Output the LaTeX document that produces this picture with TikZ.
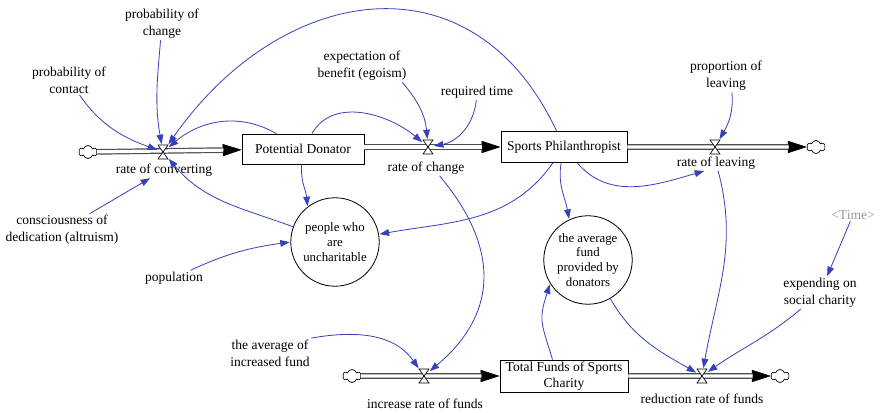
\documentclass[tikz,border=0pt]{standalone}
\usepackage{fontspec}
\setmainfont{Liberation Serif}
\usetikzlibrary{arrows.meta, positioning, shapes.symbols}
\definecolor{linkblue}{RGB}{55, 65, 185}
\definecolor{timegray}{RGB}{150, 150, 150}
\tikzset{
  lbl/.style={align=center, inner sep=1pt, font=\fontsize{10}{12.5}\selectfont},
  stock/.style={draw, line width=0.6pt, inner sep=1pt, align=center, font=\fontsize{10}{11.5}\selectfont},
  aux/.style={draw, circle, line width=0.6pt, minimum size=2.3cm, inner sep=0pt, align=center, font=\fontsize{9.5}{11}\selectfont},
  valvept/.style={inner sep=0pt, minimum width=0.26cm, minimum height=0.36cm},
  valve/.pic={\draw[fill=white, line width=0.5pt] (-5,7) -- (5,7) -- (-5,-7) -- (5,-7) -- cycle;},
  sink/.style={cloud, draw, cloud puffs=6, aspect=1.3, minimum width=0.47cm, minimum height=0.34cm, inner sep=0pt, line width=0.5pt},
  pipe/.style={draw=black!70, double=white, double distance=2.4pt, line width=0.9pt, shorten >=13.5pt},
  flowtip/.style={-{Triangle[length=14pt,width=9pt]}, line width=0.4pt},
  link/.style={-{Triangle[length=7pt,width=5pt]}, draw=linkblue, line width=0.6pt, shorten >=0.5pt}
}
\begin{document}
\begin{tikzpicture}[x=0.026cm, y=0.026cm]
  \useasboundingbox (0,0) rectangle (882,413);
  % stocks and auxiliaries
  \node[stock, minimum width=3.17cm, minimum height=0.78cm] (donator) at (303,264) {Potential Donator};
  \node[stock, minimum width=3.28cm, minimum height=0.8cm] (philan) at (564,266) {Sports Philanthropist};
  \node[stock, minimum width=3.33cm, minimum height=0.83cm] (funds) at (564,37) {Total Funds of Sports\\Charity};
  \node[aux] (unchar) at (335,171) {people who\\are\\uncharitable};
  \node[aux] (avgfund) at (588,153) {the average\\fund\\provided by\\donators};
  % clouds and valves
  \node[sink] (srcA) at (88,261) {};
  \node[sink] (sinkA) at (816,266) {};
  \node[sink] (srcB) at (352,37) {};
  \node[sink] (sinkB) at (780,37) {};
  \node[valvept] (conv) at (163,261) {};
  \node[valvept] (change) at (428,266) {};
  \node[valvept] (leave) at (715,266) {};
  \node[valvept] (incr) at (424,37) {};
  \node[valvept] (reduc) at (702,37) {};
  % flows
  \draw[flowtip] (donator.east |- change) -- (philan);
  \draw[pipe] (donator.east |- change) -- (philan);
  \foreach \a/\b in {srcA/donator, philan/sinkA, srcB/funds, funds/sinkB} {
    \draw[flowtip] (\a) -- (\b);
    \draw[pipe] (\a) -- (\b);
  }
  \foreach \v in {conv, change, leave, incr, reduc}
    \pic at (\v) {valve};
  % labels
  \node[lbl] (convlbl) at (164,243) {rate of converting};
  \node[lbl] (changelbl) at (426,245) {rate of change};
  \node[lbl] (leavelbl) at (716,250) {rate of leaving};
  \node[lbl] (incrlbl) at (425,9) {increase rate of funds};
  \node[lbl] (reduclbl) at (702,14) {reduction rate of funds};
  \node[lbl] (pchange) at (162,389) {probability of\\change};
  \node[lbl] (pcontact) at (69,333) {probability of\\contact};
  \node[lbl] (consc) at (62,183) {consciousness of\\dedication (altruism)};
  \node[lbl] (popul) at (174,135) {population};
  \node[lbl] (expect) at (362,347) {expectation of\\benefit (egoism)};
  \node[lbl] (reqtime) at (477,321) {required time};
  \node[lbl] (pleave) at (726,337) {proportion of\\leaving};
  \node[lbl, text=timegray] (timevar) at (853,198) {\textless Time\textgreater};
  \node[lbl] (expend) at (820,120) {expending on\\social charity};
  \node[lbl] (avginc) at (270,60) {the average of\\increased fund};
  % links
  \draw[link] (pcontact) to[out=-55, in=160] (conv);
  \draw[link] (pchange) to[out=-95, in=100] (conv);
  \draw[link] (philan) to[out=115, in=55, looseness=1.3] (conv);
  \draw[link] (donator) to[out=150, in=40] (conv);
  \draw[link] (consc) -- (convlbl);
  \draw[link] (unchar) to[out=160, in=-50] (conv);
  \draw[link] (donator) to[out=-95, in=95] (unchar.128);
  \draw[link] (popul) to[out=25, in=188] (unchar.180);
  \draw[link] (philan) to[out=-125, in=10] (unchar);
  \draw[link] (donator) to[out=60, in=140] (change);
  \draw[link] (expect.-22) to[out=-50, in=95] (change);
  \draw[link] (reqtime) to[out=-95, in=10] (change);
  \draw[link] (changelbl.-30) to[out=-50, in=40, looseness=1.2] (incr);
  \draw[link] (avginc.north east) to[out=10, in=125] (incr);
  \draw[link] (philan.-100) to[out=-100, in=100] (avgfund.115);
  \draw[link] (philan.-50) to[out=-50, in=196] (leavelbl.215);
  \draw[link] (pleave.-70) to[out=-85, in=60] (leave);
  \draw[link] (leavelbl) to[out=-75, in=80] (reduc);
  \draw[link] (avgfund) to[out=-60, in=150] (reduc);
  \draw[link] (expend) to[out=-140, in=35] (reduc);
  \draw[link] (timevar) -- (expend);
  \draw[link] (funds.125) to[out=107, in=-108, looseness=1.3] (avgfund.212);
\end{tikzpicture}
\end{document}
